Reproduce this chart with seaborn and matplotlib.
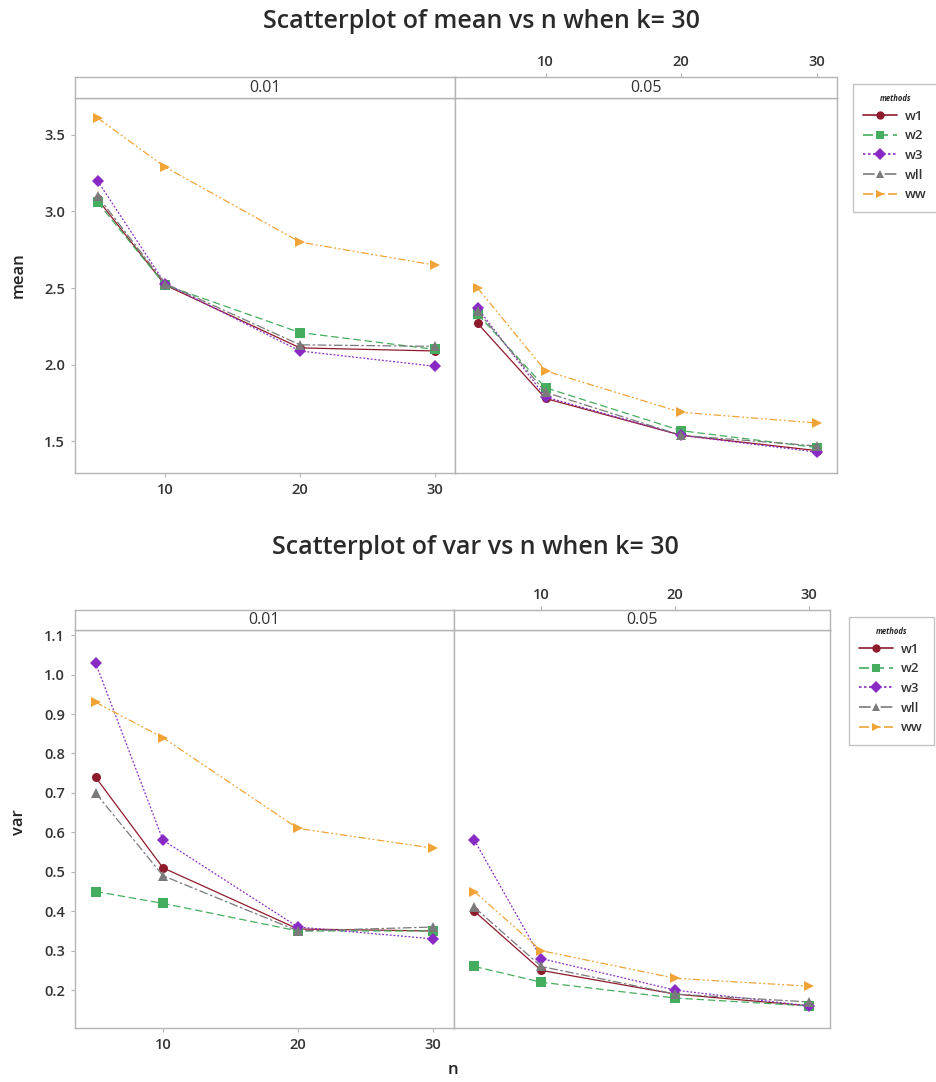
import numpy as np
import pandas as pd
import matplotlib
matplotlib.use("Agg")
import matplotlib.pyplot as plt
import seaborn as sns
from matplotlib.lines import Line2D

# ---- data (k = 30) ----
methods = ["w1", "w2", "w3", "wll", "ww"]
n_vals = [5, 10, 20, 30]
alphas = ["0.01", "0.05"]

# rows follow the order of `methods`
mean_001 = [[3.08, 2.52, 2.11, 2.09],
            [3.06, 2.52, 2.21, 2.10],
            [3.20, 2.53, 2.09, 1.99],
            [3.10, 2.53, 2.13, 2.12],
            [3.61, 3.29, 2.80, 2.65]]
mean_005 = [[2.27, 1.78, 1.54, 1.44],
            [2.33, 1.85, 1.57, 1.46],
            [2.37, 1.79, 1.54, 1.43],
            [2.35, 1.82, 1.54, 1.47],
            [2.50, 1.96, 1.69, 1.62]]
var_001 = [[0.74, 0.51, 0.355, 0.35],
           [0.45, 0.42, 0.35, 0.35],
           [1.03, 0.58, 0.36, 0.33],
           [0.70, 0.49, 0.35, 0.36],
           [0.93, 0.84, 0.61, 0.56]]
var_005 = [[0.40, 0.25, 0.19, 0.16],
           [0.26, 0.22, 0.18, 0.16],
           [0.58, 0.28, 0.20, 0.16],
           [0.41, 0.26, 0.19, 0.17],
           [0.45, 0.30, 0.23, 0.21]]

# ---- styles ----
colors = {"w1": "#8e1b2c", "w2": "#45ad5e", "w3": "#8a2ac4", "wll": "#7a7a7a", "ww": "#f0a337"}
marker_map = {"w1": "o", "w2": "s", "w3": "D", "wll": "^", "ww": ">"}
dash_map = {"w1": "", "w2": (6, 3), "w3": (1.5, 1.5), "wll": (7, 2, 2, 2), "ww": (6, 2, 1.5, 2, 1.5, 2)}

rows = []
for stat, tables in (("mean", (mean_001, mean_005)), ("var", (var_001, var_005))):
    for a, table in zip(alphas, tables):
        for m, vals in zip(methods, table):
            for n, v in zip(n_vals, vals):
                rows.append({"stat": stat, "alpha": a, "methods": m, "n": n, "value": v})
df = pd.DataFrame(rows)

sns.set_style("white")
plt.rcParams["font.family"] = ["Open Sans", "DejaVu Sans"]
TXT = "#333333"
SPINE = "#b4b4b4"

W, H = 937, 1082
fig = plt.figure(figsize=(W / 100, H / 100), dpi=100)


def box(x0, y0, x1, y1):
    return [x0 / W, 1 - y1 / H, (x1 - x0) / W, (y1 - y0) / H]


def style_spines(ax):
    for s in ax.spines.values():
        s.set_color(SPINE)
        s.set_linewidth(1.0)


def draw_chart(stat, title, title_x, title_y, strip_top, strip_bot, plot_bot, mid, right,
               ylim, yticks, xlim, ylabel_y, legend_x, legend_top):
    fig.text(title_x / W, 1 - title_y / H, title, ha="center", va="center",
             fontsize=18, fontweight="semibold", color="#2a2a2a")
    ax_l = fig.add_axes(box(75, strip_bot, mid, plot_bot))
    ax_r = fig.add_axes(box(mid, strip_bot, right, plot_bot), sharey=ax_l)
    for ax, a in ((ax_l, "0.01"), (ax_r, "0.05")):
        sub = df[(df["stat"] == stat) & (df["alpha"] == a)]
        sns.lineplot(data=sub, x="n", y="value", hue="methods", style="methods",
                     hue_order=methods, style_order=methods, palette=colors,
                     markers=marker_map, dashes=dash_map, markersize=6.5,
                     linewidth=0.9, markeredgewidth=0, legend=False,
                     errorbar=None, ax=ax)
        ax.set_xlim(*xlim)
        ax.set_xlabel("")
        ax.set_ylabel("")
        style_spines(ax)
    ax_l.set_ylim(*ylim)
    ax_l.set_yticks(yticks)
    ax_l.set_yticklabels([f"{t:.1f}" for t in yticks])
    ax_l.set_xticks([10, 20, 30])
    ax_l.tick_params(axis="both", length=3, width=0.8, color=SPINE, labelsize=10.5,
                     labelcolor=TXT, pad=4, left=True, bottom=True)
    for lab in ax_l.get_xticklabels() + ax_l.get_yticklabels():
        lab.set_fontweight("semibold")
    ax_r.tick_params(axis="both", left=False, labelleft=False,
                     bottom=False, labelbottom=False)

    # strips
    st_l = fig.add_axes(box(75, strip_top, mid, strip_bot))
    st_r = fig.add_axes(box(mid, strip_top, right, strip_bot), sharex=ax_r)
    for st, a in ((st_l, "0.01"), (st_r, "0.05")):
        st.set_yticks([])
        style_spines(st)
        st.text(0.5, 0.5, a, transform=st.transAxes, ha="center", va="center",
                fontsize=11.5, color=TXT)
    st_l.set_xticks([])
    st_r.set_xticks([10, 20, 30])
    st_r.xaxis.tick_top()
    st_r.tick_params(axis="x", top=True, labeltop=True, bottom=False, labelbottom=False,
                     length=3, width=0.8, color=SPINE, labelsize=10.5, labelcolor=TXT, pad=3)
    for lab in st_r.get_xticklabels():
        lab.set_fontweight("semibold")

    fig.text(19 / W, 1 - ylabel_y / H, stat, rotation=90, ha="center", va="center",
             fontsize=12, fontweight="semibold", color="#222222")

    handles = [Line2D([], [], color=colors[m], marker=marker_map[m], markersize=6,
                      markeredgewidth=0, linewidth=1.2,
                      linestyle=(0, dash_map[m]) if dash_map[m] else "-")
               for m in methods]
    leg = fig.legend(handles, methods, title="methods", loc="upper left",
                     bbox_to_anchor=(legend_x / W, 1 - legend_top / H), frameon=True,
                     fancybox=False, edgecolor=SPINE, fontsize=9.5, handlelength=2.6,
                     labelspacing=0.5, borderpad=0.8, handletextpad=0.6)
    leg.get_title().set_fontsize(5.5)
    leg.get_title().set_fontweight("bold")
    leg.get_title().set_fontstyle("italic")
    for t in leg.get_texts():
        t.set_fontweight("semibold")
        t.set_color(TXT)
    return ax_l, ax_r


draw_chart("mean", "Scatterplot of mean vs n when k= 30", 482, 22, 77, 98, 473, 455, 837,
           (1.294, 3.74), [1.5, 2.0, 2.5, 3.0, 3.5], (3.33, 31.48), 275, 846, 77)
draw_chart("var", "Scatterplot of var vs n when k= 30", 475, 547, 610, 630, 1028, 454, 830,
           (0.104, 1.113), [0.2, 0.3, 0.4, 0.5, 0.6, 0.7, 0.8, 0.9, 1.0, 1.1],
           (3.48, 31.56), 822, 842, 610)

fig.text(453 / W, 1 - 1070 / H, "n", ha="center", va="center", fontsize=12,
         fontweight="semibold", color="#222222")

fig.savefig("out.png", dpi=100)
